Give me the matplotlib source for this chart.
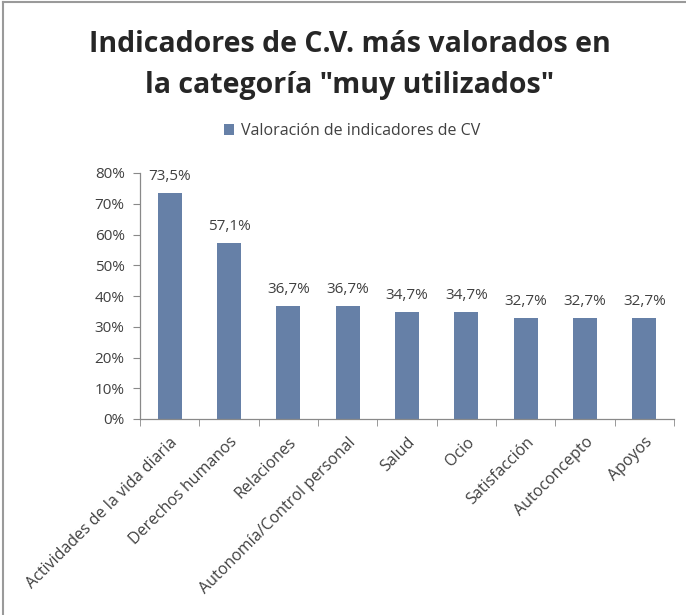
import matplotlib
matplotlib.use("Agg")
import matplotlib.pyplot as plt
from matplotlib.lines import Line2D
from matplotlib.patches import Patch
import numpy as np

categories = ["Actividades de la vida diaria", "Derechos humanos", "Relaciones",
              "Autonomía/Control personal", "Salud", "Ocio", "Satisfacción",
              "Autoconcepto", "Apoyos"]
values = [73.5, 57.1, 36.7, 36.7, 34.7, 34.7, 32.7, 32.7, 32.7]
value_labels = ["73,5%", "57,1%", "36,7%", "36,7%", "34,7%", "34,7%", "32,7%", "32,7%", "32,7%"]
yticks = [0, 10, 20, 30, 40, 50, 60, 70, 80]
ytick_labels = ["0%", "10%", "20%", "30%", "40%", "50%", "60%", "70%", "80%"]
series_name = "Valoración de indicadores de CV"
title = 'Indicadores de C.V. más valorados en\nla categoría "muy utilizados"'

plt.rcParams['font.family'] = ['Open Sans', 'DejaVu Sans']
bar_color = "#6680A7"
text_color = "#404040"
axis_color = "#898989"

fig = plt.figure(figsize=(6.86, 6.15), dpi=100)
ax = fig.add_axes([140/686, 1-419/615, (674-140)/686, (419-173)/615])

x = np.arange(len(categories))
ax.bar(x, values, width=0.4, color=bar_color, label=series_name)
for xi, v, lab in zip(x, values, value_labels):
    ax.annotate(lab, (xi, v), xytext=(0, 9.5), textcoords="offset points",
                ha="center", va="baseline", fontsize=11, color=text_color)

ax.set_xlim(-0.5, len(categories) - 0.5)
ax.set_ylim(0, 80)
ax.set_yticks(yticks)
ax.set_yticklabels(ytick_labels, fontsize=11, color=text_color)
ax.set_xticks(x)
ax.set_xticklabels(categories, rotation=45, ha="right", rotation_mode="anchor",
                   fontsize=11.5, color=text_color)
ax.set_xticks(np.arange(len(categories) + 1) - 0.5, minor=True)
ax.tick_params(axis="x", which="major", length=0, pad=11)
ax.tick_params(axis="x", which="minor", length=5, color=axis_color, direction="out")
ax.tick_params(axis="y", length=5, color=axis_color, direction="out", pad=6)
for s in ["top", "right"]:
    ax.spines[s].set_visible(False)
for s in ["left", "bottom"]:
    ax.spines[s].set_color(axis_color)
    ax.spines[s].set_linewidth(0.9)

fig.text(350/686, 1-65/615, title, ha="center", va="center", fontsize=20.5,
         fontweight="bold", color="#262626", linespacing=1.5)

handles = [Patch(facecolor=bar_color, edgecolor="none")]
fig.legend(handles, [series_name], loc="center", bbox_to_anchor=(352/686, 1-131/615),
           frameon=False, fontsize=11.5, handlelength=0.65, handleheight=0.65,
           handletextpad=0.4, labelcolor=text_color)

# partial chart frame (top and left edges)
fig.add_artist(Line2D([3/686, 1], [1-2/615, 1-2/615], transform=fig.transFigure,
                      color="#9a9a9a", lw=1.5))
fig.add_artist(Line2D([3/686, 3/686], [0, 1-2/615], transform=fig.transFigure,
                      color="#9a9a9a", lw=1.5))

fig.savefig("out.png", dpi=100, facecolor="white")
